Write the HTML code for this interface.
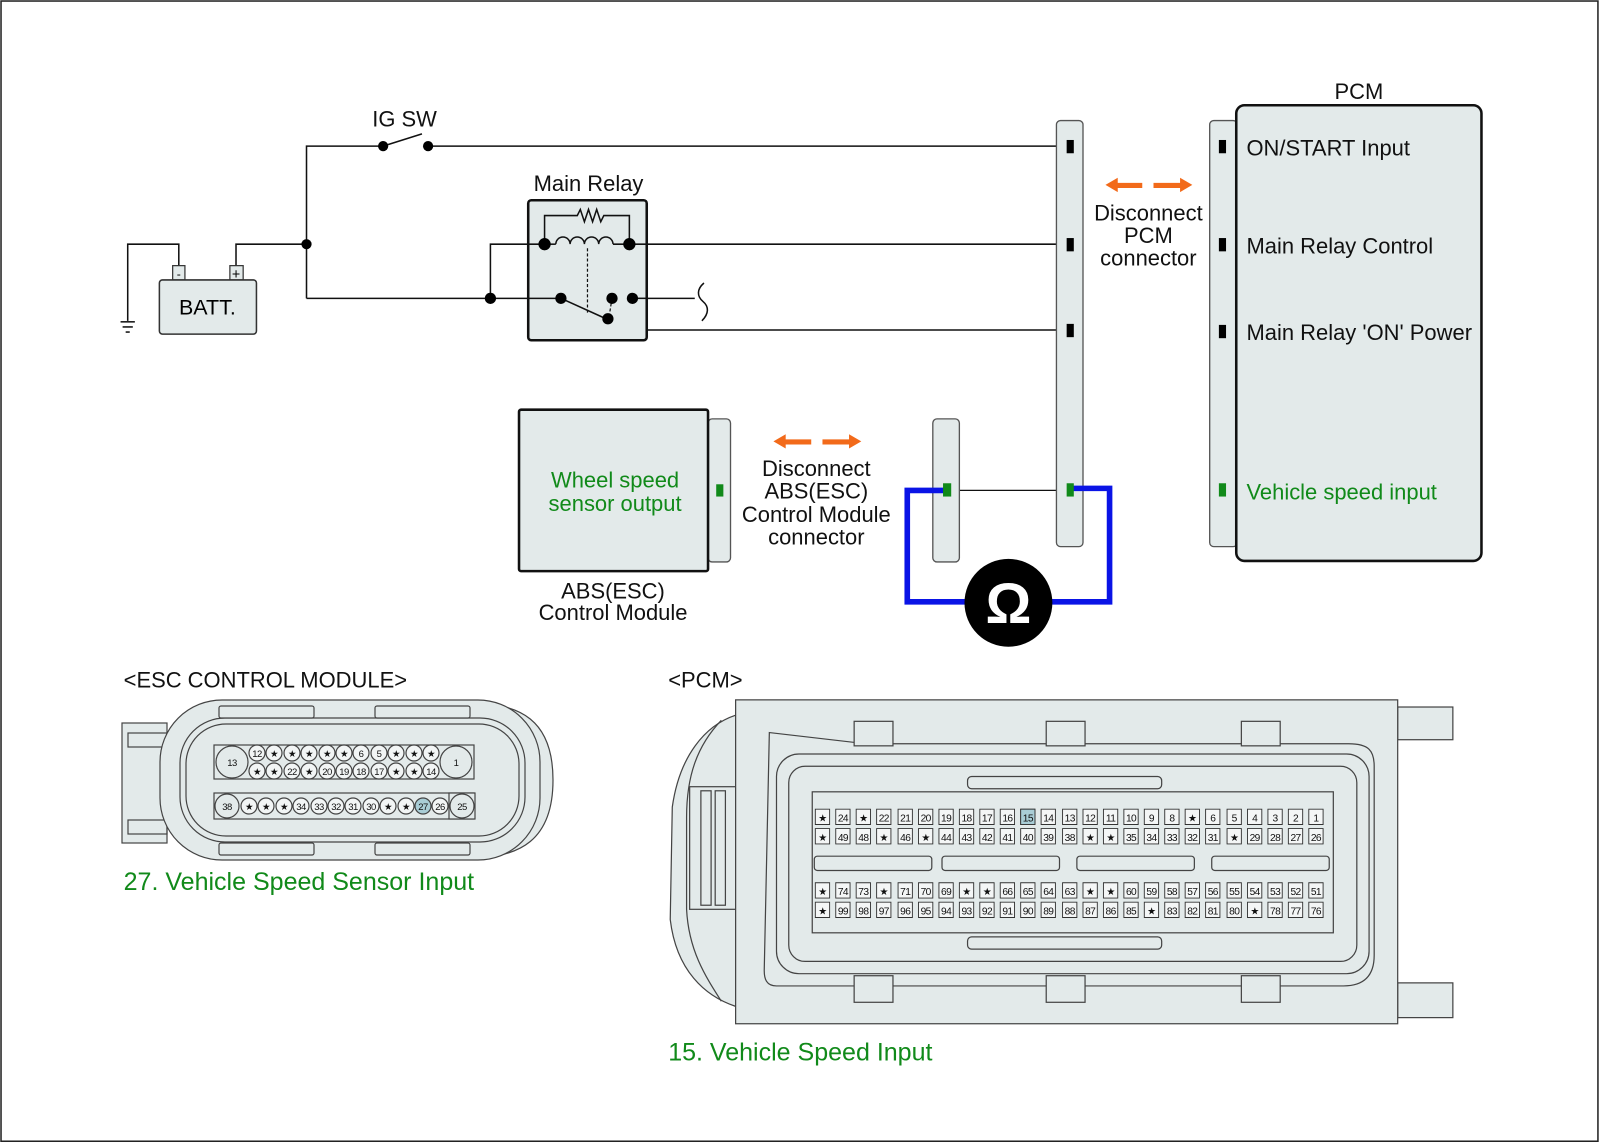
<!DOCTYPE html>
<html><head><meta charset="utf-8"><style>
html,body{margin:0;padding:0;background:#fff}
svg{display:block}
text{font-family:"Liberation Sans",Arial,sans-serif}
</style></head><body>
<svg width="1600" height="1143" viewBox="0 0 1600 1143" xmlns="http://www.w3.org/2000/svg">
<g transform="scale(1.0217)">
<rect x="1" y="1" width="1563" height="1116" fill="#fff" stroke="#222" stroke-width="1.5"/>
<g font-size="21.5" fill="#111">
<text x="396" y="124" text-anchor="middle">IG SW</text>
<text x="576" y="187" text-anchor="middle">Main Relay</text>
<text x="1330" y="97" text-anchor="middle">PCM</text>
</g>
<g stroke="#111" stroke-width="1.5" fill="none">
<polyline points="300,292 300,143 375,143"/>
<line x1="375" y1="143" x2="413" y2="131"/>
<line x1="419" y1="143" x2="1047" y2="143"/>
<polyline points="300,239 231,239 231,262"/>
<polyline points="175,262 175,239 125,239 125,314"/>
<line x1="118" y1="315" x2="132" y2="315"/><line x1="120" y1="320" x2="130" y2="320"/><line x1="123" y1="325" x2="127" y2="325"/>
<polyline points="300,292 549,292"/>
<polyline points="480,292 480,239 533,239"/>
<line x1="616" y1="239" x2="1047" y2="239"/>
<polyline points="599,292 680,292"/>
<path d="M689,277 C682,283 682,290 688,295 C694,300 694,307 687,314"/>
<polyline points="619,292 619,323 1047,323"/>
<line x1="930" y1="480" x2="1047" y2="480" stroke-width="1.2"/>
</g>
<rect x="169" y="260" width="12" height="14" fill="#e3eaea" stroke="#333" stroke-width="1.2"/>
<rect x="225" y="260" width="13" height="14" fill="#e3eaea" stroke="#333" stroke-width="1.2"/>
<text x="175" y="272" font-size="12" text-anchor="middle">-</text>
<text x="231" y="273" font-size="14" text-anchor="middle">+</text>
<rect x="156" y="274" width="95" height="53" rx="3" fill="#e3eaea" stroke="#333" stroke-width="1.5"/>
<text x="203" y="308" font-size="21" text-anchor="middle">BATT.</text>
<rect x="517" y="196" width="116" height="137" rx="3" fill="#e3eaea" stroke="#111" stroke-width="2.5"/>
<g stroke="#111" stroke-width="1.5" fill="none">
<line x1="517" y1="239" x2="533" y2="239"/>
<line x1="616" y1="239" x2="633" y2="239"/>
<line x1="517" y1="292" x2="549" y2="292"/>
<line x1="619" y1="292" x2="633" y2="292"/>
<polyline points="533,239 533,211 565,211 568,205 572,217 576,205 580,217 584,205 588,217 591,211 616,211 616,239"/>
<path d="M544,239 a7,7 0 0 1 14,0 a7,7 0 0 1 14,0 a7,7 0 0 1 14,0 a7,7 0 0 1 14,0"/>
<line x1="533" y1="239" x2="544" y2="239"/><line x1="600" y1="239" x2="616" y2="239"/>
<line x1="575" y1="243" x2="575" y2="307" stroke-dasharray="3,2" stroke-width="1.2"/>
<line x1="599" y1="292" x2="596" y2="311" stroke-dasharray="3,2" stroke-width="1.2"/>
<line x1="549" y1="292" x2="591" y2="311"/>
</g>
<g fill="#000">
<circle cx="375" cy="143" r="5"/><circle cx="419" cy="143" r="5"/>
<circle cx="300" cy="239" r="5"/><circle cx="480" cy="292" r="5.5"/>
<circle cx="533" cy="239" r="6"/><circle cx="616" cy="239" r="6"/>
<circle cx="549" cy="292" r="5.5"/><circle cx="599" cy="292" r="5.5"/><circle cx="619" cy="292" r="5.5"/><circle cx="595" cy="312" r="5.5"/>
</g>
<g fill="#e3eaea" stroke="#555" stroke-width="1.3">
<rect x="1034" y="118" width="26" height="417" rx="4"/>
<rect x="1184" y="118" width="27" height="417" rx="4"/>
<rect x="913" y="410" width="26" height="140" rx="4"/>
<rect x="693" y="410" width="22" height="140" rx="4"/>
</g>
<rect x="1210" y="103" width="240" height="446" rx="8" fill="#e3eaea" stroke="#111" stroke-width="2.5"/>
<rect x="508" y="401" width="185" height="158" rx="2" fill="#e3eaea" stroke="#111" stroke-width="2.5"/>
<g fill="#000">
<rect x="1044" y="137" width="7" height="13"/><rect x="1044" y="233" width="7" height="13"/><rect x="1044" y="317" width="7" height="13"/>
<rect x="1193" y="137" width="7" height="13"/><rect x="1193" y="233" width="7" height="13"/><rect x="1193" y="318" width="7" height="13"/>
</g>
<g stroke="#0a14e6" stroke-width="5.5" fill="none">
<polyline points="927,480 888,480 888,589 950,589"/>
<polyline points="1025,589 1086,589 1086,478 1050,478"/>
</g>
<g fill="#118a1a">
<rect x="1044" y="473" width="7" height="13"/><rect x="1193" y="473" width="7" height="13"/>
<rect x="923" y="473" width="8" height="13"/><rect x="701" y="474" width="7" height="12"/>
</g>
<circle cx="987" cy="590" r="43" fill="#000"/>
<text x="987" y="610" font-size="56" font-weight="bold" fill="#fff" text-anchor="middle">Ω</text>
<g fill="#f26a1a">
<polygon points="1082,181 1094,174 1094,179 1118,179 1118,184 1094,184 1094,188"/>
<polygon points="1167,181 1155,174 1155,179 1129,179 1129,184 1155,184 1155,188"/>
<polygon points="757,432 769,425 769,430 794,430 794,435 769,435 769,439"/>
<polygon points="843,432 831,425 831,430 805,430 805,435 831,435 831,439"/>
</g>
<g font-size="21.5" fill="#111" text-anchor="middle">
<text x="1124" y="216">Disconnect</text><text x="1124" y="238">PCM</text><text x="1124" y="260">connector</text>
<text x="799" y="466">Disconnect</text><text x="799" y="488">ABS(ESC)</text><text x="799" y="511">Control Module</text><text x="799" y="533">connector</text>
<text x="600" y="586">ABS(ESC)</text><text x="600" y="607">Control Module</text>
</g>
<g font-size="21.5" fill="#118a1a" text-anchor="middle">
<text x="602" y="477">Wheel speed</text><text x="602" y="500">sensor output</text>
</g>
<g font-size="21.5" fill="#111">
<text x="1220" y="152">ON/START Input</text>
<text x="1220" y="248">Main Relay Control</text>
<text x="1220" y="333">Main Relay 'ON' Power</text>
<text x="1220" y="489" fill="#118a1a">Vehicle speed input</text>
<text x="121" y="673">&lt;ESC CONTROL MODULE&gt;</text>
<text x="654" y="673">&lt;PCM&gt;</text>
<text x="121" y="871" fill="#118a1a" font-size="24.5">27. Vehicle Speed Sensor Input</text>
<text x="654" y="1038" fill="#118a1a" font-size="24.5">15. Vehicle Speed Input</text>
</g>
<g stroke="#444" stroke-width="1.2" fill="#e3eaea">
<path d="M720,700 C690,710 665,740 658,790 L656,900 C662,950 690,975 720,985 Z"/>
<path d="M706,705 C682,730 672,760 672,800 L672,890 C674,930 690,955 706,980" fill="none"/>
<rect x="675" y="770" width="45" height="120"/>
<rect x="686" y="774" width="10" height="112"/><rect x="700" y="774" width="10" height="112"/>
<rect x="1368" y="692" width="54" height="32"/><rect x="1368" y="962" width="54" height="34"/>
<rect x="720" y="685" width="648" height="317"/>
<path d="M753,717 L848,728 L1320,728 C1340,728 1345,735 1345,750 L1345,935 C1345,955 1335,965 1315,965 L760,965 C750,965 748,958 748,950 Z" fill="none"/>
<rect x="760" y="738" width="580" height="215" rx="22" fill="none"/>
<rect x="772" y="750" width="556" height="191" rx="16" fill="none"/>
<rect x="795" y="775" width="510" height="138" fill="none"/>
<rect x="836" y="706" width="38" height="24"/><rect x="1024" y="706" width="38" height="24"/><rect x="1215" y="706" width="38" height="24"/>
<rect x="836" y="955" width="38" height="26"/><rect x="1024" y="955" width="38" height="26"/><rect x="1215" y="955" width="38" height="26"/>
<rect x="947" y="760" width="190" height="12" rx="4"/><rect x="947" y="917" width="190" height="12" rx="4"/>
<rect x="797" y="838" width="115" height="14" rx="3"/><rect x="922" y="838" width="115" height="14" rx="3"/><rect x="1054" y="838" width="115" height="14" rx="3"/><rect x="1186" y="838" width="115" height="14" rx="3"/>
</g>
</g>
<g transform="scale(1.0217)" font-size="10" text-anchor="middle" letter-spacing="-0.6" fill="#111">
<g stroke="#333" stroke-width="0.9" fill="#f4f6f6">
<path d="M798,792h14v15h-14zM818,792h14v15h-14zM838,792h14v15h-14zM858,792h14v15h-14zM879,792h14v15h-14zM899,792h14v15h-14zM919,792h14v15h-14zM939,792h14v15h-14zM959,792h14v15h-14zM979,792h14v15h-14zM1013,792h-14v15h14zM1019,792h14v15h-14zM1040,792h14v15h-14zM1060,792h14v15h-14zM1080,792h14v15h-14zM1100,792h14v15h-14zM1120,792h14v15h-14zM1140,792h14v15h-14zM1160,792h14v15h-14zM1180,792h14v15h-14zM1201,792h14v15h-14zM1221,792h14v15h-14zM1241,792h14v15h-14zM1261,792h14v15h-14zM1281,792h14v15h-14z"/>
<path d="M798,811h14v15h-14zM818,811h14v15h-14zM838,811h14v15h-14zM858,811h14v15h-14zM879,811h14v15h-14zM899,811h14v15h-14zM919,811h14v15h-14zM939,811h14v15h-14zM959,811h14v15h-14zM979,811h14v15h-14zM999,811h14v15h-14zM1019,811h14v15h-14zM1040,811h14v15h-14zM1060,811h14v15h-14zM1080,811h14v15h-14zM1100,811h14v15h-14zM1120,811h14v15h-14zM1140,811h14v15h-14zM1160,811h14v15h-14zM1180,811h14v15h-14zM1201,811h14v15h-14zM1221,811h14v15h-14zM1241,811h14v15h-14zM1261,811h14v15h-14zM1281,811h14v15h-14z"/>
<path d="M798,864h14v15h-14zM818,864h14v15h-14zM838,864h14v15h-14zM858,864h14v15h-14zM879,864h14v15h-14zM899,864h14v15h-14zM919,864h14v15h-14zM939,864h14v15h-14zM959,864h14v15h-14zM979,864h14v15h-14zM999,864h14v15h-14zM1019,864h14v15h-14zM1040,864h14v15h-14zM1060,864h14v15h-14zM1080,864h14v15h-14zM1100,864h14v15h-14zM1120,864h14v15h-14zM1140,864h14v15h-14zM1160,864h14v15h-14zM1180,864h14v15h-14zM1201,864h14v15h-14zM1221,864h14v15h-14zM1241,864h14v15h-14zM1261,864h14v15h-14zM1281,864h14v15h-14z"/>
<path d="M798,883h14v15h-14zM818,883h14v15h-14zM838,883h14v15h-14zM858,883h14v15h-14zM879,883h14v15h-14zM899,883h14v15h-14zM919,883h14v15h-14zM939,883h14v15h-14zM959,883h14v15h-14zM979,883h14v15h-14zM999,883h14v15h-14zM1019,883h14v15h-14zM1040,883h14v15h-14zM1060,883h14v15h-14zM1080,883h14v15h-14zM1100,883h14v15h-14zM1120,883h14v15h-14zM1140,883h14v15h-14zM1160,883h14v15h-14zM1180,883h14v15h-14zM1201,883h14v15h-14zM1221,883h14v15h-14zM1241,883h14v15h-14zM1261,883h14v15h-14zM1281,883h14v15h-14z"/>
</g>
<rect x="999" y="792" width="14" height="15" fill="#a9cdd6" stroke="#333" stroke-width="0.9"/>
<text y="804"><tspan x="805">★</tspan><tspan x="825">24</tspan><tspan x="845">★</tspan><tspan x="865">22</tspan><tspan x="886">21</tspan><tspan x="906">20</tspan><tspan x="926">19</tspan><tspan x="946">18</tspan><tspan x="966">17</tspan><tspan x="986">16</tspan><tspan x="1006">15</tspan><tspan x="1026">14</tspan><tspan x="1047">13</tspan><tspan x="1067">12</tspan><tspan x="1087">11</tspan><tspan x="1107">10</tspan><tspan x="1127">9</tspan><tspan x="1147">8</tspan><tspan x="1167">★</tspan><tspan x="1187">6</tspan><tspan x="1208">5</tspan><tspan x="1228">4</tspan><tspan x="1248">3</tspan><tspan x="1268">2</tspan><tspan x="1288">1</tspan></text>
<text y="823"><tspan x="805">★</tspan><tspan x="825">49</tspan><tspan x="845">48</tspan><tspan x="865">★</tspan><tspan x="886">46</tspan><tspan x="906">★</tspan><tspan x="926">44</tspan><tspan x="946">43</tspan><tspan x="966">42</tspan><tspan x="986">41</tspan><tspan x="1006">40</tspan><tspan x="1026">39</tspan><tspan x="1047">38</tspan><tspan x="1067">★</tspan><tspan x="1087">★</tspan><tspan x="1107">35</tspan><tspan x="1127">34</tspan><tspan x="1147">33</tspan><tspan x="1167">32</tspan><tspan x="1187">31</tspan><tspan x="1208">★</tspan><tspan x="1228">29</tspan><tspan x="1248">28</tspan><tspan x="1268">27</tspan><tspan x="1288">26</tspan></text>
<text y="876"><tspan x="805">★</tspan><tspan x="825">74</tspan><tspan x="845">73</tspan><tspan x="865">★</tspan><tspan x="886">71</tspan><tspan x="906">70</tspan><tspan x="926">69</tspan><tspan x="946">★</tspan><tspan x="966">★</tspan><tspan x="986">66</tspan><tspan x="1006">65</tspan><tspan x="1026">64</tspan><tspan x="1047">63</tspan><tspan x="1067">★</tspan><tspan x="1087">★</tspan><tspan x="1107">60</tspan><tspan x="1127">59</tspan><tspan x="1147">58</tspan><tspan x="1167">57</tspan><tspan x="1187">56</tspan><tspan x="1208">55</tspan><tspan x="1228">54</tspan><tspan x="1248">53</tspan><tspan x="1268">52</tspan><tspan x="1288">51</tspan></text>
<text y="895"><tspan x="805">★</tspan><tspan x="825">99</tspan><tspan x="845">98</tspan><tspan x="865">97</tspan><tspan x="886">96</tspan><tspan x="906">95</tspan><tspan x="926">94</tspan><tspan x="946">93</tspan><tspan x="966">92</tspan><tspan x="986">91</tspan><tspan x="1006">90</tspan><tspan x="1026">89</tspan><tspan x="1047">88</tspan><tspan x="1067">87</tspan><tspan x="1087">86</tspan><tspan x="1107">85</tspan><tspan x="1127">★</tspan><tspan x="1147">83</tspan><tspan x="1167">82</tspan><tspan x="1187">81</tspan><tspan x="1208">80</tspan><tspan x="1228">★</tspan><tspan x="1248">78</tspan><tspan x="1268">77</tspan><tspan x="1288">76</tspan></text>
</g>
<g stroke="#444" stroke-width="1.2" fill="#e3eaea">
<rect x="122" y="723" width="45" height="120"/>
<rect x="128" y="733" width="39" height="14" fill="none"/><rect x="128" y="820" width="39" height="14" fill="none"/>
<path d="M470,703 C520,703 553,720 553,780 C553,840 520,858 470,858 Z"/>
<rect x="160" y="700" width="380" height="160" rx="62"/>
<rect x="180" y="718" width="345" height="124" rx="45" fill="none"/>
<rect x="186" y="724" width="333" height="112" rx="40" fill="none"/>
<rect x="219" y="706" width="95" height="12" rx="2"/><rect x="375" y="706" width="95" height="12" rx="2"/>
<rect x="219" y="843" width="95" height="12" rx="2"/><rect x="375" y="843" width="95" height="12" rx="2"/>
<rect x="214" y="745" width="260" height="34"/>
<rect x="214" y="793" width="260" height="26"/>
<rect x="449" y="793" width="26" height="26"/>
<circle cx="232" cy="762" r="16"/><circle cx="456" cy="762" r="16"/>
<circle cx="227" cy="806" r="12"/><circle cx="462" cy="806" r="12"/>
<g fill="#f2f5f5">
<circle cx="257" cy="753" r="8"/><circle cx="274" cy="753" r="8"/><circle cx="292" cy="753" r="8"/><circle cx="309" cy="753" r="8"/><circle cx="327" cy="753" r="8"/><circle cx="344" cy="753" r="8"/><circle cx="361" cy="753" r="8"/><circle cx="379" cy="753" r="8"/><circle cx="396" cy="753" r="8"/><circle cx="414" cy="753" r="8"/><circle cx="431" cy="753" r="8"/>
<circle cx="257" cy="771" r="8"/><circle cx="274" cy="771" r="8"/><circle cx="292" cy="771" r="8"/><circle cx="309" cy="771" r="8"/><circle cx="327" cy="771" r="8"/><circle cx="344" cy="771" r="8"/><circle cx="361" cy="771" r="8"/><circle cx="379" cy="771" r="8"/><circle cx="396" cy="771" r="8"/><circle cx="414" cy="771" r="8"/><circle cx="431" cy="771" r="8"/>
<circle cx="249" cy="806" r="8"/><circle cx="266" cy="806" r="8"/><circle cx="284" cy="806" r="8"/><circle cx="301" cy="806" r="8"/><circle cx="319" cy="806" r="8"/><circle cx="336" cy="806" r="8"/><circle cx="353" cy="806" r="8"/><circle cx="371" cy="806" r="8"/><circle cx="388" cy="806" r="8"/><circle cx="406" cy="806" r="8"/><circle cx="423" cy="806" r="8" fill="#a9cdd6"/><circle cx="440" cy="806" r="8"/>
</g>
</g>
<g font-size="9.5" text-anchor="middle" fill="#111" letter-spacing="-0.5">
<text x="232" y="766">13</text><text x="456" y="766">1</text><text x="227" y="810">38</text><text x="462" y="810">25</text>
<text y="757"><tspan x="257">12</tspan><tspan x="274">★</tspan><tspan x="292">★</tspan><tspan x="309">★</tspan><tspan x="327">★</tspan><tspan x="344">★</tspan><tspan x="361">6</tspan><tspan x="379">5</tspan><tspan x="396">★</tspan><tspan x="414">★</tspan><tspan x="431">★</tspan></text>
<text y="775"><tspan x="257">★</tspan><tspan x="274">★</tspan><tspan x="292">22</tspan><tspan x="309">★</tspan><tspan x="327">20</tspan><tspan x="344">19</tspan><tspan x="361">18</tspan><tspan x="379">17</tspan><tspan x="396">★</tspan><tspan x="414">★</tspan><tspan x="431">14</tspan></text>
<text y="810"><tspan x="249">★</tspan><tspan x="266">★</tspan><tspan x="284">★</tspan><tspan x="301">34</tspan><tspan x="319">33</tspan><tspan x="336">32</tspan><tspan x="353">31</tspan><tspan x="371">30</tspan><tspan x="388">★</tspan><tspan x="406">★</tspan><tspan x="423">27</tspan><tspan x="440">26</tspan></text>
</g>
</svg>
</body></html>
